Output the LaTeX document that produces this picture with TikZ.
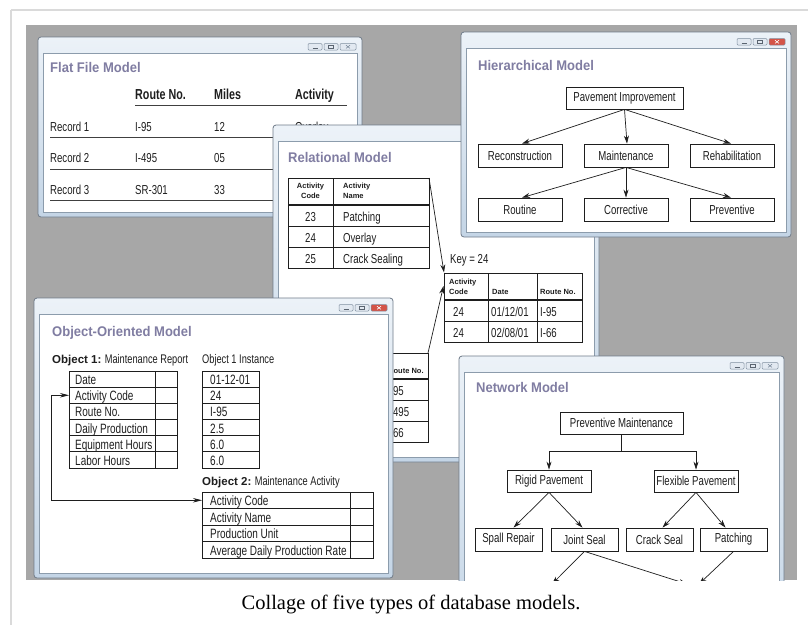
\documentclass[tikz,border=0pt]{standalone}
\usepackage{fontspec}
\setmainfont{Liberation Sans}
\newfontfamily\cond[FakeStretch=0.74]{Liberation Sans}
\newfontfamily\titlefont[FakeStretch=0.93]{Liberation Sans}
\newfontfamily\capfont{Liberation Serif}
\usetikzlibrary{arrows.meta}

\definecolor{pagegray}{RGB}{167,167,167}
\definecolor{pageline}{RGB}{218,218,218}
\definecolor{frameedge}{RGB}{112,124,138}
\definecolor{frametop}{RGB}{236,242,248}
\definecolor{framebot}{RGB}{196,213,230}
\definecolor{inneredge}{RGB}{140,156,172}
\definecolor{btnfill}{RGB}{226,233,241}
\definecolor{btnedge}{RGB}{128,143,160}
\definecolor{btnred}{RGB}{212,84,72}
\definecolor{titlepurple}{RGB}{128,125,162}
\definecolor{ink}{RGB}{30,30,30}

\tikzset{
  x=1pt, y=-1pt,
  wintitle/.style={font=\titlefont\bfseries\fontsize{14}{16}\selectfont, text=titlepurple, anchor=base west, inner sep=0pt},
  txt/.style={font=\cond\fontsize{13}{15}\selectfont, text=ink, anchor=base west, inner sep=0pt},
  ootxt/.style={font=\cond\fontsize{13.5}{16}\selectfont, text=ink, anchor=base west, inner sep=0pt},
  objlabel/.style={font=\cond\fontsize{12.5}{15}\selectfont, text=ink, anchor=base west, inner sep=0pt},
  hdr/.style={font=\cond\bfseries\fontsize{14.5}{16}\selectfont, text=ink, anchor=base west, inner sep=0pt},
  smallhdr/.style={font=\bfseries\fontsize{7.5}{10}\selectfont, text=ink, inner sep=0pt},
  rule/.style={draw=ink!85, line width=0.8pt},
  tbl/.style={draw=ink, line width=0.8pt},
  thick rule/.style={draw=ink, line width=2.2pt},
  box/.style={draw=ink, line width=0.8pt, font=\cond\fontsize{13}{15}\selectfont, text=ink, inner sep=0pt, minimum height=22pt},
  arr/.style={draw=ink, line width=0.7pt, -{Stealth[length=8pt,width=5pt]}},
  link/.style={draw=ink, line width=0.7pt},
}

% application window: corners (#1,#2)-(#3,#4), close button fill #5, close glyph colour #6
\newcommand\appwindow[6]{%
  \shade[top color=frametop, bottom color=framebot, draw=frameedge, line width=0.8pt, rounded corners=3pt] (#1,#2) rectangle (#3,#4);
  \fill[white] (#1+5,#2+16) rectangle (#3-5,#4-5);
  \draw[inneredge, line width=0.6pt] (#1+5,#2+16) rectangle (#3-5,#4-5);
  \draw[btnedge, fill=btnfill, line width=0.5pt, rounded corners=1pt] (#3-54,#2+6.5) rectangle (#3-40,#2+13);
  \draw[btnedge, fill=btnfill, line width=0.5pt, rounded corners=1pt] (#3-38,#2+6.5) rectangle (#3-24,#2+13);
  \draw[btnedge, fill=#5, line width=0.5pt, rounded corners=1pt] (#3-22,#2+6.5) rectangle (#3-6,#2+13);
  \draw[btnedge!70!black, line width=0.7pt] (#3-49.5,#2+11) -- (#3-44.5,#2+11);
  \draw[btnedge!70!black, line width=0.5pt] (#3-33.5,#2+8.3) rectangle (#3-28.5,#2+11.3);
  \draw[#6, line width=0.6pt] (#3-16,#2+8.2) -- (#3-12,#2+11.4) (#3-16,#2+11.4) -- (#3-12,#2+8.2);
}

\begin{document}
\begin{tikzpicture}
\useasboundingbox (0,0) rectangle (808,625);
\fill[white] (0,0) rectangle (808,625);

% page frame lines
\draw[pageline, line width=1.5pt] (11,10) -- (808,10);
\draw[pageline, line width=1.5pt] (11,10) -- (11,625);

% grey backdrop
\fill[pagegray] (26,25) rectangle (797,580);

\begin{scope}
\clip (26,25) rectangle (797,580);

% ---------------- Flat file model ----------------
\appwindow{38}{37}{362}{217}{btnfill}{btnedge}
\node[wintitle] (fft) at (50,72) {Flat File Model};
\node[hdr] (ffh1) at (135,99) {Route No.};
\node[hdr] (ffh2) at (214,99) {Miles};
\node[hdr] (ffh3) at (295,99) {Activity};
\draw[rule] (135,105) -- (347,105);
\node[txt] (ffa1) at (50,131) {Record 1};
\node[txt] (ffb1) at (135,131) {I-95};
\node[txt] (ffc1) at (214,131) {12};
\node[txt] (ffd1) at (295,131) {Overlay};
\draw[rule] (50,137) -- (347,137);
\node[txt] (ffa2) at (50,162) {Record 2};
\node[txt] (ffb2) at (135,162) {I-495};
\node[txt] (ffc2) at (214,162) {05};
\draw[rule] (50,169) -- (347,169);
\node[txt] (ffa3) at (50,194) {Record 3};
\node[txt] (ffb3) at (135,194) {SR-301};
\node[txt] (ffc3) at (214,194) {33};
\draw[rule] (50,200) -- (347,200);

% ---------------- Relational model ----------------
\appwindow{273}{125}{599}{462}{btnfill}{btnedge}
\node[wintitle] (rmt) at (288,162) {Relational Model};
% activity table
\draw[tbl] (288,178) rectangle (429,268);
\draw[tbl] (333,178) -- (333,268);
\draw[thick rule] (288,205) -- (429,205);
\draw[tbl] (288,226) -- (429,226);
\draw[tbl] (288,247) -- (429,247);
\node[smallhdr, align=center] (r1h1) at (310.5,190.5) {Activity\\Code};
\node[smallhdr, align=left, anchor=west] (r1h2) at (343,190.5) {Activity\\Name};
\node[txt, anchor=base] (r1a1) at (310.5,221) {23};
\node[txt] (r1b1) at (343,221) {Patching};
\node[txt, anchor=base] (r1a2) at (310.5,242) {24};
\node[txt] (r1b2) at (343,242) {Overlay};
\node[txt, anchor=base] (r1a3) at (310.5,263) {25};
\node[txt] (r1b3) at (343,263) {Crack Sealing};
% keyed table
\node[txt] (key) at (450,263) {Key = 24};
\draw[tbl] (444,273) rectangle (582,342);
\draw[tbl] (488,273) -- (488,342);
\draw[tbl] (537,273) -- (537,342);
\draw[thick rule] (444,300) -- (582,300);
\draw[tbl] (444,321) -- (582,321);
\node[smallhdr, align=left, anchor=west] (r2h1) at (449,287) {Activity\\Code};
\node[smallhdr, anchor=base west] (r2h2) at (492,294) {Date};
\node[smallhdr, anchor=base west] (r2h3) at (540,294) {Route No.};
\node[txt] (r2a1) at (453,316) {24};
\node[txt] (r2b1) at (491,316) {01/12/01};
\node[txt] (r2c1) at (540,316) {I-95};
\node[txt] (r2a2) at (453,337) {24};
\node[txt] (r2b2) at (491,337) {02/08/01};
\node[txt] (r2c2) at (540,337) {I-66};
% route table
\draw[tbl] (340,353) rectangle (428,442);
\draw[tbl] (383,353) -- (383,442);
\draw[thick rule] (340,379) -- (428,379);
\draw[tbl] (340,400) -- (428,400);
\draw[tbl] (340,421) -- (428,421);
\node[smallhdr, anchor=base west] (r3h3) at (388,373) {Route No.};
\node[txt] (r3c1) at (387,395) {I-95};
\node[txt] (r3c2) at (387,416) {I-495};
\node[txt] (r3c3) at (387,437) {I-66};
% key links
\coordinate (t1corner) at (429,178);
\coordinate (t2corner) at (444,272.5);
\coordinate (t3corner) at (428,353);
\coordinate (t2side) at (443.5,286);
\draw[arr] (t1corner) -- (t2corner);
\draw[arr] (t3corner) -- (t2side);

% ---------------- Hierarchical model ----------------
\appwindow{461}{32}{791}{237}{btnred}{white}
\node[wintitle] (hmt) at (478,70) {Hierarchical Model};
\node[box, minimum width=117pt] (pi) at (624.5,98) {Pavement Improvement};
\node[box, minimum width=84pt, minimum height=23pt] (recon) at (520,155.5) {Reconstruction};
\node[box, minimum width=84pt, minimum height=23pt] (maint) at (626,155.5) {Maintenance};
\node[box, minimum width=84pt, minimum height=23pt] (rehab) at (732,155.5) {Rehabilitation};
\node[box, minimum width=84pt, minimum height=23pt] (routine) at (520,209.5) {Routine};
\node[box, minimum width=84pt, minimum height=23pt] (correct) at (626,209.5) {Corrective};
\node[box, minimum width=84pt, minimum height=23pt] (prevent) at (732,209.5) {Preventive};
\draw[arr] (pi.south) -- ([xshift=2pt]recon.north);
\draw[arr] (pi.south) -- ([xshift=1pt]maint.north);
\draw[arr] (pi.south) -- ([xshift=-1pt]rehab.north);
\draw[arr] (maint.south) -- ([xshift=2pt]routine.north);
\draw[arr] (maint.south) -- (correct.north);
\draw[arr] (maint.south) -- ([xshift=-1pt]prevent.north);

% ---------------- Object-oriented model ----------------
\appwindow{34}{298}{393}{578}{btnred}{white}
\node[wintitle] (oot) at (52,336) {Object-Oriented Model};
\node[objlabel] (ob1t) at (52,363) {{\normalfont\bfseries\fontsize{11.5}{14}\selectfont Object 1:} Maintenance Report};
\node[objlabel] (ob1i) at (202,363) {Object 1 Instance};
% object 1 table
\draw[tbl] (69,371) rectangle (177,468);
\draw[tbl] (155,371) -- (155,468);
\foreach \k in {1,...,5} \draw[tbl] (69,{371+16.17*\k}) -- (177,{371+16.17*\k});
\foreach \lab [count=\k] in {Date, Activity Code, Route No., Daily Production, Equipment Hours, Labor Hours}
  \node[ootxt] (oa\k) at (75,{371+16.17*\k-2.6}) {\lab};
% instance table
\draw[tbl] (202,371) rectangle (259,468);
\foreach \k in {1,...,5} \draw[tbl] (202,{371+16.17*\k}) -- (259,{371+16.17*\k});
\foreach \lab [count=\k] in {01-12-01, 24, I-95, 2.5, 6.0, 6.0}
  \node[ootxt] (ob\k) at (210,{371+16.17*\k-2.6}) {\lab};
% object 2 table
\node[objlabel] (ob2t) at (202,485) {{\normalfont\bfseries\fontsize{11.5}{14}\selectfont Object 2:} Maintenance Activity};
\draw[tbl] (202,492) rectangle (373,558);
\draw[tbl] (350,492) -- (350,558);
\foreach \k in {1,...,3} \draw[tbl] (202,{492+16.5*\k}) -- (373,{492+16.5*\k});
\foreach \lab [count=\k] in {Activity Code, Activity Name, Production Unit, Average Daily Production Rate}
  \node[ootxt] (oc\k) at (210,{492+16.5*\k-2.8}) {\lab};
% shared key link
\coordinate (oaport) at (69,395.25);
\coordinate (ocport) at (202,500.25);
\draw[link, {Stealth[length=9pt,width=4.5pt]}-{Stealth[length=9pt,width=4.5pt]}] (oaport) -- (51,395.25) -- (51,500.25) -- (ocport);

% ---------------- Network model ----------------
\appwindow{459}{356}{784}{640}{btnfill}{btnedge}
\node[wintitle] (nmt) at (476,392) {Network Model};
\node[box, minimum width=123pt] (pm) at (621.5,423) {Preventive Maintenance};
\node[box, minimum width=84pt] (rigid) at (549,481) {Rigid Pavement};
\node[box, minimum width=84pt] (flex) at (696,481) {Flexible Pavement};
\node[box, minimum width=67pt, minimum height=23pt] (spall) at (508.5,539.5) {Spall Repair};
\node[box, minimum width=67pt, minimum height=23pt] (joint) at (584.5,539.5) {Joint Seal};
\node[box, minimum width=67pt, minimum height=23pt] (crack) at (659.5,539.5) {Crack Seal};
\node[box, minimum width=67pt, minimum height=23pt] (patch) at (733.5,539.5) {Patching};
\coordinate (split) at (621.5,451);
\draw[link] (pm.south) -- (split);
\draw[arr] (split) -| (rigid.north);
\draw[arr] (split) -| (flex.north);
\draw[arr] (rigid.south) -- ([xshift=5pt]spall.north);
\draw[arr] (rigid.south) -- ([xshift=-2pt]joint.north);
\draw[arr] (flex.south) -- ([xshift=3pt]crack.north);
\draw[arr] (flex.south) -- ([xshift=-8pt]patch.north);
\coordinate (low1) at (552,584);
\coordinate (low2) at (687,584);
\coordinate (low3) at (699,584);
\draw[arr] (joint.south) -- (low1);
\draw[arr] (joint.south) -- (low2);
\draw[arr] (patch.south) -- (low3);
\end{scope}

% caption
\node[font=\capfont\fontsize{20.5}{24}\selectfont, anchor=base, inner sep=0pt, text=black] (caption) at (411,609) {Collage of five types of database models.};
\end{tikzpicture}
\end{document}
